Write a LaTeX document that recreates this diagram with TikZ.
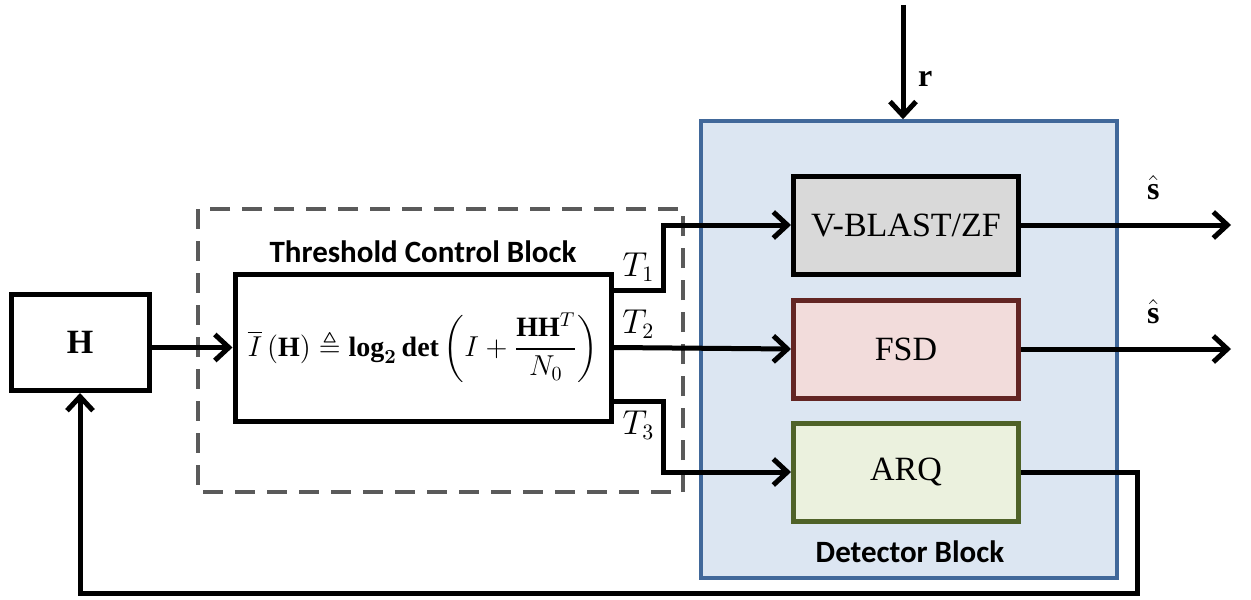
\documentclass[tikz,border=0pt]{standalone}
\usepackage{amsmath,amssymb}
\usepackage{fontspec}
\setmainfont{Liberation Serif}
\newfontfamily\blockfont{Carlito}
\usetikzlibrary{arrows.meta}

\definecolor{detfill}{HTML}{DCE6F2}
\definecolor{detdraw}{HTML}{41689A}
\definecolor{vbfill}{HTML}{D9D9D9}
\definecolor{fsdfill}{HTML}{F2DCDB}
\definecolor{fsddraw}{HTML}{632523}
\definecolor{arqfill}{HTML}{EBF1DE}
\definecolor{arqdraw}{HTML}{4F6228}
\definecolor{dashgray}{HTML}{5A5A5A}

\begin{document}
\begin{tikzpicture}[x=0.5pt,y=-0.5pt,
    box/.style = {draw,line width=2.5pt,minimum width=112.5pt,minimum height=49pt,
                  inner sep=0pt,font=\fontsize{17}{20}\selectfont},
    arr/.style = {line width=2.5pt,-{Straight Barb[length=7pt,width=13pt,line width=2.5pt]}},
    blocklabel/.style = {font=\blockfont\bfseries\fontsize{15.5}{18}\selectfont},
    sig/.style = {font=\fontsize{16}{19}\selectfont}]
    \useasboundingbox (0,0) rectangle (1251,599);

    % detector block and its three detectors
    \node[draw=detdraw,fill=detfill,line width=1.75pt,minimum width=208pt,minimum height=228.5pt,
          inner sep=0pt] (det) at (909,349.5) {};
    \node[blocklabel] at (910,552) {Detector Block};
    \node[box,fill=vbfill] (vblast) at (906,225) {V-BLAST/ZF};
    \node[box,fill=fsdfill,draw=fsddraw] (fsd) at (906,349) {FSD};
    \node[box,fill=arqfill,draw=arqdraw] (arq) at (906,472) {ARQ};

    % threshold control block
    \draw[dashgray,line width=2pt,dash pattern=on 10pt off 6pt] (198,209) rectangle (683,492);
    \node[blocklabel] at (423,252) {Threshold Control Block};
    \node[box,fill=white,minimum width=188pt,minimum height=73.5pt,font=\fontsize{14}{17}\selectfont]
        (tcb) at (423,347.5)
        {$\overline{I}\,(\mathbf{H}) \triangleq \boldsymbol{\log_2}\,\mathbf{det}
         \left(I+\dfrac{\mathbf{HH}^{T}}{N_0}\right)$};

    \node[box,fill=white,minimum width=69pt,minimum height=48pt] (H) at (80,342.5) {$\mathbf{H}$};

    % connections
    \coordinate (rin) at (903,5);
    \draw[arr] (rin) -- (rin |- det.north) node[pos=0.65,right=3pt,sig] {$\mathbf{r}$};
    \draw[arr] (H.east |- tcb) -- (tcb.west);
    \draw[arr] ([yshift=-9.5pt]tcb.north east) -- ++(25pt,0) node[midway,above,sig] {$T_1$}
        |- (vblast.west);
    \draw[arr] (tcb.east) -- (fsd.west) node[pos=0.14,above,sig] {$T_2$};
    \draw[arr] ([yshift=11pt]tcb.south east) -- ++(25pt,0) node[midway,below,sig] {$T_3$}
        |- (arq.west);
    \draw[arr] (vblast.east) -- ++(105pt,0) node[pos=0.63,above=8pt,sig] {$\hat{\mathbf{s}}$};
    \draw[arr] (fsd.east) -- ++(105pt,0) node[pos=0.63,above=8pt,sig] {$\hat{\mathbf{s}}$};
    \coordinate (fb) at (1137,593);
    \draw[arr] (arq.east) -| (fb) -| (H.south);
\end{tikzpicture}
\end{document}
